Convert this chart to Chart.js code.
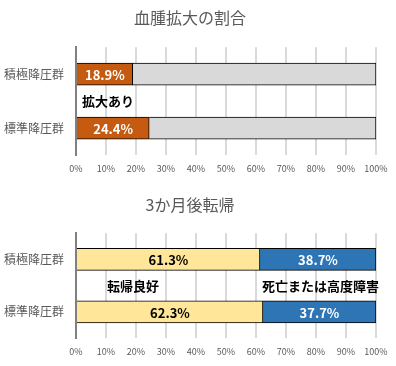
<!DOCTYPE html>
<html>
<head>
<meta charset="utf-8">
<script src="https://cdn.jsdelivr.net/npm/chart.js@4"></script>
<style>
  body { margin: 0; background: #fff; }
  .box { width: 396px; height: 183px; position: relative; }
</style>
</head>
<body>
<div class="box"><canvas id="expansion"></canvas></div>
<div class="box"><canvas id="outcome"></canvas></div>
<script>
const groups = ['積極降圧群', '標準降圧群']
const xTicks = [0, 10, 20, 30, 40, 50, 60, 70, 80, 90, 100]

// 血腫拡大
const expanded = [18.9, 24.4]
const notExpanded = [81.1, 75.6]

// 3か月後転帰
const goodOutcome = [61.3, 62.3]
const poorOutcome = [38.7, 37.7]

const orange = '#C55A11'
const lightGray = '#D9D9D9'
const yellow = '#FFE699'
const blue = '#2E75B6'
const textGray = '#595959'
const font = '"Noto Sans CJK JP", "Noto Sans", sans-serif'

// labels inside bars + notes between the two bars
const labelPlugin = {
    id: 'labels',
    afterDatasetsDraw(chart, args, opts) {
        const ctx = chart.ctx
        ctx.save()
        ctx.textAlign = 'center'
        ctx.textBaseline = 'middle'
        ctx.font = 'bold 13px ' + font
        chart.data.datasets.forEach((ds, i) => {
            if (!ds.showLabel) return
            chart.getDatasetMeta(i).data.forEach((bar, j) => {
                ctx.fillStyle = ds.labelColor
                ctx.fillText(ds.data[j].toFixed(1) + '%', (bar.x + bar.base) / 2, bar.y + 1)
            })
        })
        ctx.fillStyle = '#000'
        const xs = chart.scales.x
        const ys = chart.scales.y
        ;(opts.notes || []).forEach((n) => {
            ctx.fillText(n.text, xs.getPixelForValue(n.at), ys.getPixelForValue(0.5))
        })
        ctx.restore()
    },
}

function makeChart(id, title, titlePad, datasets, notes) {
    return new Chart(document.getElementById(id), {
        type: 'bar',
        data: { labels: groups, datasets: datasets },
        plugins: [labelPlugin],
        options: {
            indexAxis: 'y',
            responsive: true,
            maintainAspectRatio: false,
            animation: false,
            layout: { padding: { left: 4, right: 20, top: 0, bottom: 0 } },
            plugins: {
                legend: { display: false },
                tooltip: { enabled: false },
                title: {
                    display: true,
                    text: title,
                    color: textGray,
                    font: { family: font, size: 16, weight: 'normal' },
                    padding: titlePad,
                },
                labels: { notes: notes },
            },
            scales: {
                x: {
                    stacked: true,
                    min: 0,
                    max: 100,
                    afterBuildTicks: (s) => { s.ticks = xTicks.map((v) => ({ value: v })) },
                    afterFit: (s) => { s.height = 28 },
                    grid: { color: lightGray, lineWidth: 2, drawTicks: false },
                    border: { display: false },
                    ticks: {
                        color: textGray,
                        padding: 8,
                        font: { family: font, size: 9 },
                        callback: (v) => v + '%',
                    },
                },
                y: {
                    stacked: true,
                    afterFit: (s) => { s.width = 72 },
                    grid: { display: false, drawTicks: false },
                    border: { color: '#808080', width: 2 },
                    ticks: {
                        color: textGray,
                        padding: 12,
                        font: { family: font, size: 12 },
                    },
                },
            },
        },
    })
}

makeChart('expansion', '血腫拡大の割合', { top: 8, bottom: 20 }, [
    { data: expanded, backgroundColor: orange, borderColor: '#000', borderWidth: 1, barThickness: 22, showLabel: true, labelColor: '#fff' },
    { data: notExpanded, backgroundColor: lightGray, borderColor: '#000', borderWidth: 1, barThickness: 22 },
], [{ text: '拡大あり', at: 10.7 }])

makeChart('outcome', '3か月後転帰', { top: 12, bottom: 19 }, [
    { data: goodOutcome, backgroundColor: yellow, borderColor: '#000', borderWidth: 1, barThickness: 22, showLabel: true, labelColor: '#000' },
    { data: poorOutcome, backgroundColor: blue, borderColor: '#000', borderWidth: 1, barThickness: 22, showLabel: true, labelColor: '#fff' },
], [{ text: '転帰良好', at: 19 }, { text: '死亡または高度障害', at: 81.5 }])
</script>
</body>
</html>
